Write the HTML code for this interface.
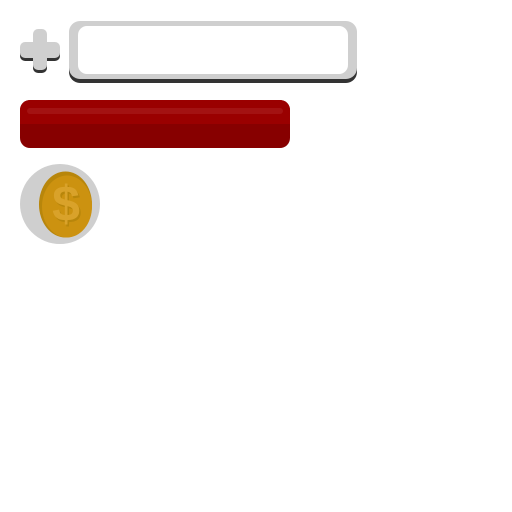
<!DOCTYPE html>
<html><head><meta charset="utf-8"><style>
html,body{margin:0;padding:0;background:#fff;width:512px;height:512px;overflow:hidden}
</style></head><body>
<svg width="512" height="512" viewBox="0 0 512 512">
  <g>
    <rect x="20" y="45" width="40" height="16" rx="5" fill="#333"/>
    <rect x="33" y="32" width="14" height="41" rx="5" fill="#333"/>
    <rect x="20" y="42" width="40" height="16" rx="5" fill="#cfcfcf"/>
    <rect x="33" y="29" width="14" height="41" rx="5" fill="#cfcfcf"/>
  </g>
  <g>
    <rect x="69" y="24" width="288" height="59" rx="11" fill="#333"/>
    <rect x="69" y="21" width="288" height="58" rx="11" fill="#cfcfcf"/>
    <rect x="78" y="26" width="270" height="48" rx="9" fill="#fff"/>
  </g>
  <g>
    <rect x="20" y="100" width="270" height="48" rx="10" fill="#870000"/>
    <path d="M30,100 H280 A10,10 0 0 1 290,110 V124 H20 V110 A10,10 0 0 1 30,100 Z" fill="#9a0000"/>
    <rect x="27" y="108" width="256" height="6" rx="3" fill="#a31212"/>
  </g>
  <g>
    <circle cx="60" cy="204" r="40" fill="#cfcfcf"/>
    <ellipse cx="65.5" cy="204.5" rx="26.5" ry="33" fill="#b8860b"/>
    <ellipse cx="67" cy="206.5" rx="25" ry="31" fill="#cc9210"/>
    <text x="67.5" y="223" text-anchor="middle" font-family="Liberation Sans, sans-serif" font-weight="bold" font-size="50" fill="#b8860b">$</text>
    <text x="66" y="221" text-anchor="middle" font-family="Liberation Sans, sans-serif" font-weight="bold" font-size="50" fill="#d9a22a">$</text>
  </g>
</svg>
</body></html>
